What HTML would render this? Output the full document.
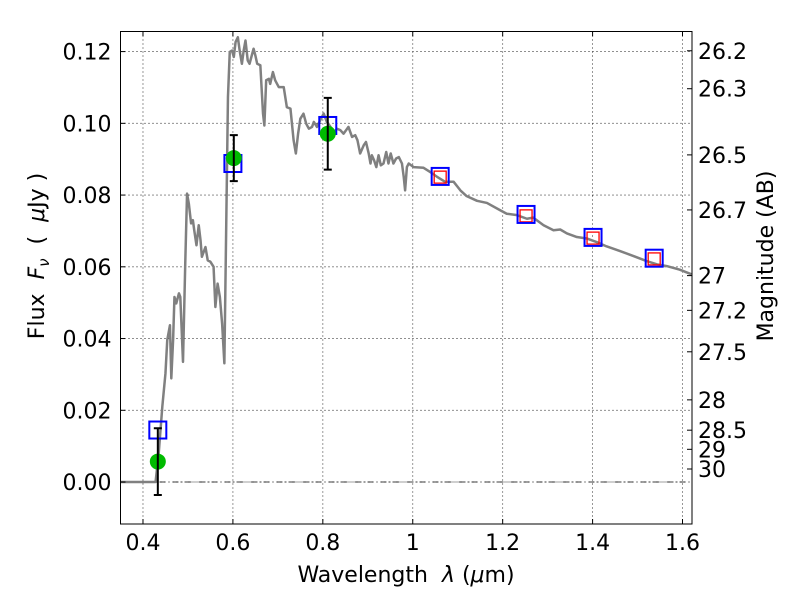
<!DOCTYPE html>
<html><head><meta charset="utf-8"><style>
body{margin:0;background:#fff;width:800px;height:600px;overflow:hidden}
svg text{font-family:"DejaVu Sans","Liberation Sans",sans-serif;fill:#000;white-space:pre}
</style></head><body>
<svg id="chart" width="800" height="600" xmlns="http://www.w3.org/2000/svg">
<rect x="0" y="0" width="800" height="600" fill="#fff"/>
<g id="grid"></g>
<g id="marks"></g>
<rect x="120.5" y="31.5" width="571.5" height="492.5" fill="none" stroke="#000" stroke-width="1"/>
<g id="ticks"></g>
<text x="406" y="582" font-size="22" text-anchor="middle">Wavelength  <tspan font-style="italic">λ</tspan> (<tspan font-style="italic">μ</tspan>m)</text>
<text transform="translate(44,256) rotate(-90)" font-size="22" text-anchor="middle">Flux  <tspan font-style="italic">F</tspan><tspan font-style="italic" font-size="15" dy="5">ν</tspan><tspan dy="-5">  (  </tspan><tspan font-style="italic">μ</tspan>Jy )</text>
<text transform="translate(773,256) rotate(-90)" font-size="22" text-anchor="middle">Magnitude (AB)</text>
</svg>
<script>
const xTicks = [0.4, 0.6, 0.8, 1.0, 1.2, 1.4, 1.6];
const xTickLabels = ["0.4", "0.6", "0.8", "1", "1.2", "1.4", "1.6"];
const yTicks = [0, 0.02, 0.04, 0.06, 0.08, 0.10, 0.12];
const yTickLabels = ["0.00", "0.02", "0.04", "0.06", "0.08", "0.10", "0.12"];
const magTicks = [26.2, 26.3, 26.5, 26.7, 27, 27.2, 27.5, 28, 28.5, 29, 30];
const magTickLabels = ["26.2", "26.3", "26.5", "26.7", "27", "27.2", "27.5", "28", "28.5", "29", "30"];
const specWave = [0.350,0.428,0.435,0.443,0.450,0.454,0.460,0.463,0.467,0.470,0.474,0.480,0.483,0.489,0.494,0.498,0.502,0.507,0.511,0.514,0.519,0.524,0.528,0.531,0.539,0.544,0.550,0.557,0.561,0.566,0.571,0.576,0.581,0.586,0.589,0.593,0.598,0.602,0.606,0.611,0.615,0.620,0.624,0.628,0.633,0.637,0.643,0.646,0.650,0.654,0.661,0.667,0.670,0.674,0.680,0.683,0.689,0.694,0.702,0.713,0.720,0.728,0.735,0.740,0.745,0.750,0.757,0.763,0.769,0.776,0.780,0.787,0.794,0.802,0.809,0.817,0.824,0.831,0.839,0.846,0.857,0.865,0.872,0.877,0.883,0.891,0.896,0.902,0.906,0.909,0.914,0.919,0.924,0.929,0.935,0.941,0.946,0.951,0.957,0.963,0.969,0.976,0.980,0.983,0.987,0.991,1.002,1.024,1.039,1.054,1.072,1.091,1.106,1.120,1.143,1.165,1.194,1.209,1.232,1.254,1.268,1.291,1.313,1.328,1.343,1.365,1.387,1.409,1.431,1.461,1.491,1.520,1.543,1.565,1.594,1.620];
const specFlux = [0.0000,0.0000,0.0080,0.0210,0.0303,0.0396,0.0437,0.0289,0.0396,0.0516,0.0498,0.0526,0.0516,0.0335,0.0609,0.0804,0.0776,0.0721,0.0730,0.0702,0.0660,0.0716,0.0674,0.0628,0.0655,0.0618,0.0614,0.0600,0.0488,0.0553,0.0516,0.0442,0.0331,0.0795,0.1073,0.1199,0.1203,0.1185,0.1227,0.1240,0.1203,0.1166,0.1203,0.1231,0.1175,0.1166,0.1194,0.1208,0.1189,0.1166,0.1162,0.1027,0.0994,0.1120,0.1124,0.1110,0.1143,0.1120,0.1101,0.1101,0.1045,0.1041,0.0953,0.0916,0.0971,0.1013,0.1027,0.0999,0.0985,0.0990,0.1004,0.0990,0.1008,0.1027,0.1004,0.0990,0.0971,0.0985,0.0981,0.0971,0.0990,0.0962,0.0967,0.0953,0.0916,0.0939,0.0948,0.0916,0.0888,0.0911,0.0897,0.0878,0.0911,0.0883,0.0888,0.0920,0.0888,0.0916,0.0888,0.0902,0.0906,0.0888,0.0850,0.0813,0.0878,0.0888,0.0878,0.0876,0.0864,0.0851,0.0837,0.0837,0.0813,0.0797,0.0784,0.0778,0.0758,0.0748,0.0744,0.0734,0.0737,0.0716,0.0702,0.0704,0.0693,0.0683,0.0679,0.0669,0.0657,0.0644,0.0630,0.0616,0.0607,0.0602,0.0592,0.0579];
const modelWave = [0.433, 0.600, 0.811, 1.061, 1.252, 1.401, 1.537];
const modelFlux = [0.0145, 0.0888, 0.0994, 0.0852, 0.0746, 0.0682, 0.0624];
const redWave = [1.061, 1.252, 1.401, 1.537];
const redFlux = [0.0850, 0.0742, 0.0680, 0.0622];
const obsWave = [0.433, 0.602, 0.811];
const obsFlux = [0.0057, 0.0903, 0.0971];
const obsErr = [0.0093, 0.0064, 0.0100];

const X0=120.5, X1=692, Y0=31.5, Y1=524;
const xmin=0.35, xmax=1.6211, ymin=-0.0117, ymax=0.1256;
const xs = v => X0 + (v - xmin) / (xmax - xmin) * (X1 - X0);
const ys = v => Y1 - (v - ymin) / (ymax - ymin) * (Y1 - Y0);
const NS = 'http://www.w3.org/2000/svg';
function mk(tag, parent, attrs){const e=document.createElementNS(NS,tag);for(const k in attrs)e.setAttribute(k,attrs[k]);parent.appendChild(e);return e;}
const grid=document.getElementById('grid'), marks=document.getElementById('marks'), ticks=document.getElementById('ticks');

xTicks.forEach((t,i)=>{
  const x=xs(t);
  const g=mk('line',grid,{x1:x,x2:x,y1:Y0,y2:Y1,stroke:'#000','stroke-width':0.8,'stroke-dasharray':'1,3'});
  
  
  const a=mk('line',ticks,{x1:x,x2:x,y1:Y1,y2:Y1-5,stroke:'#000'});
  
  
  const b=mk('line',ticks,{x1:x,x2:x,y1:Y0,y2:Y0+5,stroke:'#000'});
  
  
  const l=mk('text',ticks,{x:x,y:Y1+26,'font-size':22,'text-anchor':'middle'});
  l.textContent=xTickLabels[i];
  
  
});
yTicks.forEach((t,i)=>{
  const y=ys(t);
  const g=mk('line',grid,{x1:X0,x2:X1,y1:y,y2:y,stroke:'#000','stroke-width':0.8,'stroke-dasharray':'1,3'});
  
  
  const a=mk('line',ticks,{x1:X0,x2:X0+5,y1:y,y2:y,stroke:'#000'});
  
  
  const l=mk('text',ticks,{x:X0-9,y:y+8,'font-size':22,'text-anchor':'end'});
  l.textContent=yTickLabels[i];
  
  
});
magTicks.forEach((m,i)=>{
  const y=ys(Math.pow(10,-(m-23.9)/2.5));
  const a=mk('line',ticks,{x1:X1,x2:X1-5,y1:y,y2:y,stroke:'#000'});
  
  
  const l=mk('text',ticks,{x:X1+6,y:y+8,'font-size':22,'text-anchor':'start'});
  l.textContent=magTickLabels[i];
  
  
});
const zl=mk('line',marks,{x1:X0,x2:X1,y1:ys(0),y2:ys(0),stroke:'#000','stroke-width':0.8,'stroke-dasharray':'6,3,1,3'});


const sp=mk('polyline',marks,{points:specWave.map((w,i)=>xs(w)+','+ys(specFlux[i])).join(' '),fill:'none',stroke:'#808080','stroke-width':2.5,'stroke-linejoin':'round'});


redWave.forEach((w,i)=>{
  const r=mk('rect',marks,{x:xs(w)-6,y:ys(redFlux[i])-6,width:12,height:12,fill:'none',stroke:'#ff0000','stroke-width':1.3});
  
  
});
modelWave.forEach((w,i)=>{
  const r=mk('rect',marks,{x:xs(w)-8.5,y:ys(modelFlux[i])-8.5,width:17,height:17,fill:'none',stroke:'#0000ff','stroke-width':2});
  
  
});
obsWave.forEach((w,i)=>{
  const x=xs(w), yt=ys(obsFlux[i]+obsErr[i]), yb=ys(obsFlux[i]-obsErr[i]);
  const c=mk('circle',marks,{cx:x,cy:ys(obsFlux[i]),r:8,fill:'#00bb00'});
  
  
  const e=mk('path',marks,{d:`M${x},${yt}V${yb}M${x-4},${yt}H${x+4}M${x-4},${yb}H${x+4}`,stroke:'#000','stroke-width':2,fill:'none'});
  
  
});
</script>
</body></html>
